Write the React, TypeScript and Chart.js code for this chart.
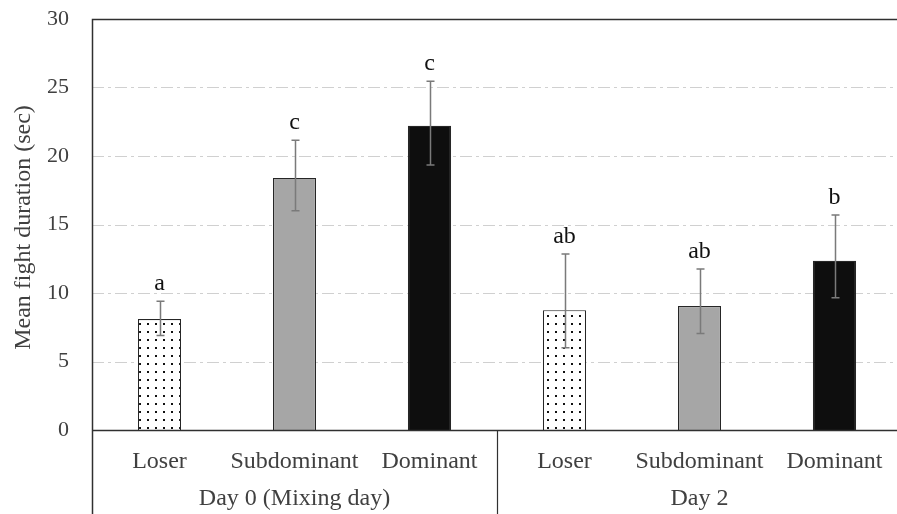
import React, { useEffect, useRef } from "react";
import { Chart, registerables } from "chart.js";

Chart.register(...registerables);

const categories = ["Loser", "Subdominant", "Dominant", "Loser", "Subdominant", "Dominant"];
const groups = ["Day 0 (Mixing day)", "Day 2"];
const groupSize = 3;
const means = [8.1, 18.4, 22.2, 8.75, 9.05, 12.35];
const errUpper = [9.4, 21.15, 25.45, 12.85, 11.75, 15.7];
const errLower = [6.9, 16.0, 19.35, 6.0, 7.05, 9.65];
const letters = ["a", "c", "c", "ab", "ab", "b"];
const yMin = 0;
const yMax = 30;
const yStep = 5;
const yTitle = "Mean fight duration (sec)";

const FONT = "'Liberation Serif', 'Times New Roman', serif";
const TEXT = "#404040";

function makeDotPattern(): CanvasPattern | string {
  const c = document.createElement("canvas");
  c.width = 8;
  c.height = 8;
  const g = c.getContext("2d");
  if (!g) return "#ffffff";
  g.fillStyle = "#ffffff";
  g.fillRect(0, 0, 8, 8);
  g.fillStyle = "#111111";
  g.fillRect(3, 3, 2, 2);
  const p = g.createPattern(c, "repeat");
  return p || "#ffffff";
}

const overlay = {
  id: "overlay",
  beforeDatasetsDraw(chart: any) {
    const { ctx, chartArea, scales } = chart;
    const y = scales.y;
    ctx.save();
    ctx.strokeStyle = "#d0d0d0";
    ctx.lineWidth = 1;
    ctx.setLineDash([12, 4, 3, 4]);
    for (let v = yMin + yStep; v < yMax; v += yStep) {
      const py = Math.round(y.getPixelForValue(v)) + 0.5;
      ctx.beginPath();
      ctx.moveTo(chartArea.left, py);
      ctx.lineTo(chartArea.right, py);
      ctx.stroke();
    }
    ctx.restore();
  },
  afterDatasetsDraw(chart: any) {
    const { ctx, chartArea, scales } = chart;
    const x = scales.x;
    const y = scales.y;
    const H = chart.height;
    ctx.save();
    // error bars
    ctx.strokeStyle = "#7a7a7a";
    ctx.lineWidth = 1.5;
    ctx.setLineDash([]);
    for (let i = 0; i < means.length; i++) {
      const px = Math.round(x.getPixelForValue(i)) + 0.5;
      const top = y.getPixelForValue(errUpper[i]);
      const bot = y.getPixelForValue(errLower[i]);
      ctx.beginPath();
      ctx.moveTo(px, top);
      ctx.lineTo(px, bot);
      ctx.moveTo(px - 4, top);
      ctx.lineTo(px + 4, top);
      ctx.moveTo(px - 4, bot);
      ctx.lineTo(px + 4, bot);
      ctx.stroke();
    }
    // letters
    ctx.fillStyle = "#111111";
    ctx.font = `24px ${FONT}`;
    ctx.textAlign = "center";
    ctx.textBaseline = "alphabetic";
    for (let i = 0; i < means.length; i++) {
      const px = x.getPixelForValue(i);
      const top = y.getPixelForValue(errUpper[i]);
      ctx.fillText(letters[i], px, top - 11);
    }
    // frame
    ctx.strokeStyle = "#303030";
    ctx.lineWidth = 1.5;
    const L = Math.round(chartArea.left) + 0.5;
    const T = Math.round(chartArea.top) + 0.5;
    const B = Math.round(chartArea.bottom) + 0.5;
    ctx.beginPath();
    ctx.moveTo(L, H);
    ctx.lineTo(L, T);
    ctx.lineTo(chartArea.right, T);
    ctx.moveTo(L, B);
    ctx.lineTo(chartArea.right, B);
    ctx.stroke();
    ctx.lineWidth = 1.2;
    for (let gi = 1; gi < groups.length; gi++) {
      const sx = Math.round((x.getPixelForValue(gi * groupSize - 1) + x.getPixelForValue(gi * groupSize)) / 2) + 0.5;
      ctx.beginPath();
      ctx.moveTo(sx, B);
      ctx.lineTo(sx, H);
      ctx.stroke();
    }
    // category labels
    ctx.fillStyle = TEXT;
    ctx.font = `24px ${FONT}`;
    ctx.textAlign = "center";
    ctx.textBaseline = "alphabetic";
    for (let i = 0; i < categories.length; i++) {
      ctx.fillText(categories[i], x.getPixelForValue(i), chartArea.bottom + 38);
    }
    for (let gi = 0; gi < groups.length; gi++) {
      const a = x.getPixelForValue(gi * groupSize);
      const b = x.getPixelForValue(gi * groupSize + groupSize - 1);
      ctx.fillText(groups[gi], (a + b) / 2, chartArea.bottom + 75);
    }
    // y title
    ctx.save();
    ctx.translate(30, (chartArea.top + chartArea.bottom) / 2 + 3);
    ctx.rotate(-Math.PI / 2);
    ctx.textBaseline = "alphabetic";
    ctx.fillText(yTitle, 0, 0);
    ctx.restore();
    ctx.restore();
  },
};

export default function App() {
  const ref = useRef<HTMLCanvasElement | null>(null);
  useEffect(() => {
    const canvas = ref.current;
    if (!canvas) return;
    const pattern = makeDotPattern();
    const fills = [pattern, "#a6a6a6", "#0e0e0e", pattern, "#a6a6a6", "#0e0e0e"];
    const chart = new Chart(canvas, {
      type: "bar",
      data: {
        labels: categories,
        datasets: [
          {
            data: means,
            backgroundColor: fills as any,
            borderColor: "#262626",
            borderWidth: 1.2,
            barPercentage: 0.32,
            categoryPercentage: 1,
          },
        ],
      },
      options: {
        responsive: false,
        animation: false,
        layout: { padding: { top: 19, right: 0, left: 0, bottom: 0 } },
        plugins: { legend: { display: false }, tooltip: { enabled: false } },
        scales: {
          x: {
            grid: { display: false },
            border: { display: false },
            ticks: { display: false },
            afterFit: (s: any) => {
              s.height = 84;
              s.paddingLeft = 0;
              s.paddingRight = 0;
              s.paddingTop = 0;
              s.paddingBottom = 0;
            },
          },
          y: {
            min: yMin,
            max: yMax,
            ticks: {
              stepSize: yStep,
              font: { family: FONT, size: 22 },
              color: TEXT,
              padding: 23,
            },
            grid: { display: false, drawTicks: false },
            border: { display: false },
            afterFit: (s: any) => {
              s.width = 92;
              s.paddingTop = 0;
              s.paddingBottom = 0;
              s.paddingLeft = 0;
              s.paddingRight = 0;
            },
          },
        },
      },
      plugins: [overlay],
    });
    return () => chart.destroy();
  }, []);
  return (
    <div
      style={{
        position: "fixed",
        left: 0,
        top: 0,
        width: 897,
        height: 514,
        overflow: "hidden",
        background: "#ffffff",
      }}
    >
      <canvas ref={ref} width={902} height={514} style={{ display: "block", width: 902, height: 514 }} />
    </div>
  );
}
